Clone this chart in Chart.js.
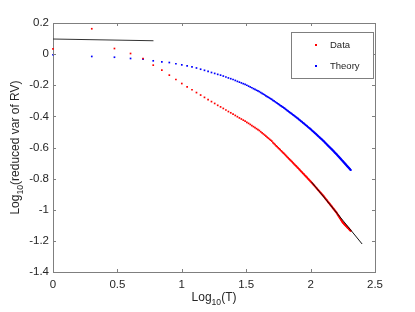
<!DOCTYPE html>
<html>
<head>
<meta charset="utf-8">
<script src="https://cdn.jsdelivr.net/npm/chart.js@4.4.0/dist/chart.umd.min.js"></script>
<style>
  body { margin: 0; background: #fff; }
  #wrap { width: 415px; height: 312px; }
</style>
</head>
<body>
<div id="wrap"><canvas id="chart"></canvas></div>
<script>
// periods T = 1..205, plotted at log10(T)
const periods = Array.from({ length: 205 }, (_, i) => i + 1);

const dataValues = [
  0.034, 0.163, 0.036, 0.004, -0.028, -0.071, -0.103, -0.135, -0.163,
  -0.189, -0.210, -0.229, -0.247, -0.263, -0.278, -0.292, -0.305, -0.317, -0.329, -0.339,
  -0.349, -0.359, -0.369, -0.377, -0.386, -0.394, -0.402, -0.410, -0.417, -0.424,
  -0.431, -0.438, -0.445, -0.452, -0.459, -0.466, -0.472, -0.479, -0.485, -0.491,
  -0.499, -0.506, -0.513, -0.520, -0.527, -0.534, -0.540, -0.547, -0.553, -0.559,
  -0.569, -0.575, -0.582, -0.589, -0.595, -0.602, -0.608, -0.614, -0.621, -0.627,
  -0.633, -0.638, -0.644, -0.650, -0.656, -0.662, -0.667, -0.673, -0.678, -0.683,
  -0.688, -0.693, -0.699, -0.704, -0.709, -0.714, -0.718, -0.723, -0.728, -0.733,
  -0.737, -0.742, -0.747, -0.751, -0.756, -0.760, -0.765, -0.769, -0.773, -0.778,
  -0.782, -0.786, -0.790, -0.794, -0.799, -0.802, -0.807, -0.810, -0.814, -0.818,
  -0.822, -0.826, -0.830, -0.834, -0.838, -0.842, -0.845, -0.849, -0.853, -0.857,
  -0.860, -0.864, -0.868, -0.872, -0.875, -0.878, -0.882, -0.886, -0.889, -0.892,
  -0.896, -0.899, -0.903, -0.905, -0.909, -0.912, -0.916, -0.919, -0.924, -0.927,
  -0.930, -0.934, -0.937, -0.940, -0.944, -0.948, -0.951, -0.954, -0.957, -0.960,
  -0.963, -0.967, -0.970, -0.973, -0.976, -0.979, -0.982, -0.986, -0.989, -0.992,
  -0.995, -0.998, -1.001, -1.004, -1.007, -1.010, -1.013, -1.016, -1.018, -1.022,
  -1.026, -1.030, -1.033, -1.037, -1.039, -1.043, -1.047, -1.050, -1.054, -1.056,
  -1.060, -1.064, -1.066, -1.070, -1.073, -1.077, -1.079, -1.082, -1.085, -1.086,
  -1.089, -1.091, -1.093, -1.095, -1.097, -1.099, -1.101, -1.103, -1.104, -1.107,
  -1.109, -1.110, -1.113, -1.115, -1.116, -1.118, -1.120, -1.122, -1.124, -1.126,
  -1.128, -1.130, -1.131, -1.134, -1.136
];

const theoryValues = [
  -0.004, -0.015, -0.020, -0.028, -0.032, -0.043, -0.050, -0.054, -0.062,
  -0.069, -0.076, -0.082, -0.089, -0.097, -0.104, -0.111, -0.118, -0.124, -0.130, -0.135,
  -0.141, -0.147, -0.153, -0.158, -0.163, -0.169, -0.175, -0.180, -0.185, -0.190,
  -0.195, -0.200, -0.206, -0.211, -0.216, -0.222, -0.227, -0.232, -0.236, -0.241,
  -0.247, -0.252, -0.257, -0.262, -0.268, -0.273, -0.277, -0.282, -0.287, -0.291,
  -0.297, -0.301, -0.306, -0.311, -0.315, -0.320, -0.324, -0.329, -0.333, -0.337,
  -0.341, -0.345, -0.349, -0.354, -0.358, -0.363, -0.366, -0.371, -0.375, -0.378,
  -0.382, -0.386, -0.390, -0.393, -0.397, -0.401, -0.404, -0.408, -0.412, -0.415,
  -0.419, -0.423, -0.426, -0.430, -0.433, -0.436, -0.441, -0.443, -0.447, -0.450,
  -0.454, -0.457, -0.460, -0.463, -0.467, -0.470, -0.473, -0.476, -0.479, -0.482,
  -0.485, -0.489, -0.492, -0.495, -0.498, -0.501, -0.504, -0.507, -0.510, -0.513,
  -0.516, -0.519, -0.522, -0.525, -0.528, -0.531, -0.534, -0.537, -0.540, -0.542,
  -0.545, -0.547, -0.550, -0.553, -0.556, -0.558, -0.561, -0.564, -0.567, -0.570,
  -0.572, -0.576, -0.578, -0.581, -0.583, -0.587, -0.589, -0.592, -0.594, -0.597,
  -0.599, -0.602, -0.604, -0.607, -0.609, -0.612, -0.614, -0.617, -0.619, -0.622,
  -0.624, -0.627, -0.629, -0.632, -0.634, -0.636, -0.639, -0.641, -0.643, -0.646,
  -0.648, -0.651, -0.653, -0.656, -0.658, -0.660, -0.663, -0.665, -0.668, -0.670,
  -0.672, -0.675, -0.677, -0.680, -0.682, -0.684, -0.686, -0.688, -0.691, -0.693,
  -0.695, -0.697, -0.699, -0.702, -0.704, -0.706, -0.708, -0.710, -0.712, -0.715,
  -0.717, -0.718, -0.721, -0.723, -0.725, -0.727, -0.729, -0.731, -0.733, -0.735,
  -0.737, -0.739, -0.741, -0.743, -0.745
];

// fitted straight lines
const fitShortX = [0, 0.78];
const fitShortY = [0.097, 0.086];
const fitLongX = [2.006, 2.4];
const fitLongY = [-0.82, -1.22];

const xTicks = [0, 0.5, 1, 1.5, 2, 2.5];
const yTicks = [0.2, 0, -0.2, -0.4, -0.6, -0.8, -1, -1.2, -1.4];
const legendLabels = ["Data", "Theory"];
const seriesColors = ["#ff0000", "#0000ff"];

const FONT = "'Liberation Sans', Arial, sans-serif";
const TEXT_COLOR = "#262626";
const AXIS_COLOR = "#7f7f7f";

function toPoints(xs, ys) {
  return xs.map((x, i) => ({ x, y: ys[i] }));
}

const logT = periods.map((t) => Math.log10(t));

function drawSubText(ctx, x, y, main, sub, rest, size) {
  ctx.font = `${size}px ${FONT}`;
  const w1 = ctx.measureText(main).width;
  const w3 = ctx.measureText(rest).width;
  ctx.font = `${size * 0.72}px ${FONT}`;
  const w2 = ctx.measureText(sub).width;
  let cx = x - (w1 + w2 + w3) / 2;
  ctx.textAlign = "left";
  ctx.textBaseline = "alphabetic";
  ctx.font = `${size}px ${FONT}`;
  ctx.fillText(main, cx, y);
  cx += w1;
  ctx.font = `${size * 0.72}px ${FONT}`;
  ctx.fillText(sub, cx, y + size * 0.3);
  cx += w2;
  ctx.font = `${size}px ${FONT}`;
  ctx.fillText(rest, cx, y);
}

// inward ticks, axis titles and the boxed legend
const extrasPlugin = {
  id: "extras",
  afterDraw(chart) {
    const { ctx, chartArea: a, scales } = chart;
    ctx.save();
    ctx.strokeStyle = AXIS_COLOR;
    ctx.lineWidth = 1;
    ctx.beginPath();
    xTicks.forEach((v) => {
      const px = Math.round(scales.x.getPixelForValue(v)) + 0.5;
      ctx.moveTo(px, a.bottom);
      ctx.lineTo(px, a.bottom - 3);
      ctx.moveTo(px, a.top);
      ctx.lineTo(px, a.top + 3);
    });
    yTicks.forEach((v) => {
      const py = Math.round(scales.y.getPixelForValue(v)) + 0.5;
      ctx.moveTo(a.left, py);
      ctx.lineTo(a.left + 3, py);
      ctx.moveTo(a.right, py);
      ctx.lineTo(a.right - 3, py);
    });
    ctx.stroke();

    ctx.fillStyle = TEXT_COLOR;
    drawSubText(ctx, (a.left + a.right) / 2, 301, "Log", "10", "(T)", 12);
    ctx.save();
    ctx.translate(19, (a.top + a.bottom) / 2);
    ctx.rotate(-Math.PI / 2);
    drawSubText(ctx, 0, 0, "Log", "10", "(reduced var of RV)", 12);
    ctx.restore();

    const lx = Math.round(a.right) - 84;
    const ly = Math.round(a.top) + 9;
    ctx.fillStyle = "#fff";
    ctx.fillRect(lx, ly, 82, 46);
    ctx.strokeRect(lx + 0.5, ly + 0.5, 82, 46);
    ctx.font = `9.5px ${FONT}`;
    ctx.textBaseline = "middle";
    ctx.textAlign = "left";
    legendLabels.forEach((label, i) => {
      const cy = ly + 13 + i * 21;
      ctx.fillStyle = seriesColors[i];
      ctx.fillRect(lx + 24, cy - 1, 2, 2);
      ctx.fillStyle = TEXT_COLOR;
      ctx.fillText(label, lx + 39, cy);
    });
    ctx.restore();
  },
};

const tickFont = { family: FONT, size: 11.5 };
const fmt = (v) => String(Math.round(v * 10) / 10);
const noGrid = { display: false, drawTicks: false, tickLength: 0 };
const edge = { display: true, color: AXIS_COLOR, width: 1 };

const ctx = document.getElementById("chart").getContext("2d");

new Chart(ctx, {
  type: "scatter",
  data: {
    datasets: [
      {
        label: "fit short",
        data: toPoints(fitShortX, fitShortY),
        showLine: true,
        borderColor: "#333",
        borderWidth: 1,
        pointRadius: 0,
        order: 0,
      },
      {
        label: "fit long",
        data: toPoints(fitLongX, fitLongY),
        showLine: true,
        borderColor: "#111",
        borderWidth: 1,
        pointRadius: 0,
        order: 0,
      },
      {
        label: legendLabels[0],
        data: toPoints(logT, dataValues),
        pointStyle: "rect",
        pointRadius: 1.2,
        pointBorderWidth: 0,
        backgroundColor: seriesColors[0],
        clip: false,
        order: 1,
      },
      {
        label: legendLabels[1],
        data: toPoints(logT, theoryValues),
        pointStyle: "rect",
        pointRadius: 1.2,
        pointBorderWidth: 0,
        backgroundColor: seriesColors[1],
        clip: false,
        order: 2,
      },
    ],
  },
  options: {
    responsive: true,
    maintainAspectRatio: false,
    animation: false,
    layout: { padding: { top: 23, right: 40, left: 0, bottom: 0 } },
    plugins: {
      legend: { display: false },
      tooltip: { enabled: false },
    },
    scales: {
      x: {
        type: "linear",
        position: "bottom",
        min: 0,
        max: 2.5,
        grid: noGrid,
        border: edge,
        afterBuildTicks: (s) => { s.ticks = xTicks.map((v) => ({ value: v })); },
        afterFit: (s) => { s.height = 40; },
        ticks: { padding: 6, color: TEXT_COLOR, font: tickFont, maxRotation: 0, callback: fmt },
      },
      xTop: {
        type: "linear",
        position: "top",
        min: 0,
        max: 2.5,
        grid: noGrid,
        border: edge,
        ticks: { display: false },
        afterFit: (s) => { s.height = 0; },
      },
      y: {
        type: "linear",
        position: "left",
        min: -1.4,
        max: 0.2,
        grid: noGrid,
        border: edge,
        afterBuildTicks: (s) => { s.ticks = yTicks.map((v) => ({ value: v })); },
        afterFit: (s) => { s.width = 53; },
        ticks: { padding: 4, color: TEXT_COLOR, font: tickFont, callback: fmt },
      },
      yRight: {
        type: "linear",
        position: "right",
        min: -1.4,
        max: 0.2,
        grid: noGrid,
        border: edge,
        ticks: { display: false },
        afterFit: (s) => { s.width = 0; },
      },
    },
  },
  plugins: [extrasPlugin],
});
</script>
</body>
</html>
